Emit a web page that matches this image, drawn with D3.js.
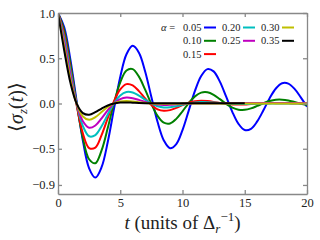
<!DOCTYPE html>
<html lang="en">
<head>
<meta charset="UTF-8">
<script src="https://cdn.jsdelivr.net/npm/d3@7"></script>
<title>sigma_z(t) for several alpha</title>
<style>
  body { margin: 0; background: #fff; }
  svg text { fill: #222; }
  .axis path, .axis line { stroke: #888; stroke-width: 1.3px; }
  .curve { fill: none; stroke-width: 2px; }
</style>
</head>
<body>
<svg id="chart" width="320" height="240"></svg>
<script>
// Data
const alphaLabels = ["0.05", "0.10", "0.15", "0.20", "0.25", "0.30", "0.35"];
const times = d3.range(0, 20.001, 0.5);      // t = 0 .. 20
const timesShort = d3.range(0, 15.001, 0.5); // alpha = 0.35 stops at t = 15

const sigmaA005 = [1.000, 0.841, 0.482, 0.024, -0.412, -0.716, -0.819, -0.704, -0.423, -0.057,
  0.294, 0.544, 0.637, 0.562, 0.354, 0.072, -0.205, -0.408, -0.494, -0.448,
  -0.294, -0.079, 0.139, 0.304, 0.380, 0.355, 0.242, 0.079, -0.092, -0.226,
  -0.293, -0.280, -0.198, -0.075, 0.059, 0.166, 0.224, 0.220, 0.161, 0.068, -0.035];
const sigmaA010 = [1.000, 0.807, 0.434, -0.003, -0.383, -0.616, -0.660, -0.518, -0.269, 0.007,
  0.234, 0.364, 0.380, 0.297, 0.153, -0.006, -0.137, -0.212, -0.220, -0.170,
  -0.086, 0.005, 0.079, 0.120, 0.124, 0.096, 0.048, -0.004, -0.045, -0.068,
  -0.070, -0.054, -0.027, 0.003, 0.027, 0.041, 0.042, 0.033, 0.016, -0.002, -0.016];
const sigmaA015 = [1.000, 0.766, 0.383, -0.019, -0.331, -0.492, -0.487, -0.349, -0.160, 0.025,
  0.156, 0.214, 0.200, 0.137, 0.056, -0.016, -0.064, -0.081, -0.073, -0.049,
  -0.018, 0.009, 0.026, 0.031, 0.027, 0.018, 0.006, -0.004, -0.010, -0.012,
  -0.011, -0.006, -0.002, 0.002, 0.004, 0.004, 0.003, 0.002, 0.000, -0.001, -0.002];
const sigmaA020 = [1.000, 0.726, 0.351, -0.002, -0.250, -0.362, -0.349, -0.252, -0.121, 0.003,
  0.089, 0.127, 0.122, 0.087, 0.042, -0.002, -0.031, -0.045, -0.042, -0.031,
  -0.014, 0.001, 0.011, 0.016, 0.015, 0.010, 0.005, 0.000, -0.004, -0.006,
  -0.006, -0.004, -0.002, 0.000, 0.001, 0.001, 0.001, 0.000, 0.000, 0.000, 0.000];
const sigmaA025 = [1.000, 0.683, 0.311, -0.002, -0.197, -0.268, -0.243, -0.165, -0.074, 0.002,
  0.049, 0.066, 0.059, 0.040, 0.018, -0.001, -0.012, -0.016, -0.014, -0.009,
  -0.004, 0.000, 0.003, 0.004, 0.004, 0.004, 0.004, 0.005, 0.005, 0.005,
  0.005, 0.005, 0.005, 0.005, 0.005, 0.005, 0.005, 0.005, 0.005, 0.005, 0.005];
const sigmaA030 = [1.000, 0.631, 0.265, -0.002, -0.143, -0.180, -0.151, -0.095, -0.039, 0.001,
  0.022, 0.027, 0.023, 0.015, 0.006, 0.000, -0.003, -0.004, -0.003, -0.002,
  -0.001, 0.000, 0.000, 0.000, 0.000, 0.000, 0.000, 0.000, 0.000, 0.000,
  0.000, 0.000, 0.000, 0.000, 0.000, 0.000, 0.000, 0.000, 0.000, 0.000, 0.000];
const sigmaA035 = [1.000, 0.586, 0.228, -0.001, -0.106, -0.124, -0.096, -0.056, -0.022, 0.000,
  0.010, 0.012, 0.009, 0.006, 0.004, 0.003, 0.003, 0.002, 0.002, 0.002,
  0.002, 0.002, 0.002, 0.002, 0.002, 0.002, 0.002, 0.002, 0.002, 0.002, 0.002];

const xTicks = [0, 5, 10, 15, 20];
const yTicks = [1.0, 0.5, 0.0, -0.5, -0.9];

const seriesValues = [sigmaA005, sigmaA010, sigmaA015, sigmaA020, sigmaA025, sigmaA030, sigmaA035];
const seriesTimes = [times, times, times, times, times, times, timesShort];
const lineColors = ["#0000ff", "#008000", "#ff0000", "#00bfbf", "#bf00bf", "#bfbf00", "#000000"];

// Layout
const plot = { left: 58, right: 307, top: 13, bottom: 194 };
const serif = "Liberation Serif, serif";
const svg = d3.select("#chart").attr("font-family", serif);

const x = d3.scaleLinear().domain([0, 20]).range([plot.left, plot.right]);
const y = d3.scaleLinear().domain([-1, 1]).range([plot.bottom, plot.top]);

svg.append("defs").append("clipPath").attr("id", "clip")
  .append("rect")
  .attr("x", plot.left).attr("y", plot.top)
  .attr("width", plot.right - plot.left).attr("height", plot.bottom - plot.top);

// Curves
const line = d3.line()
  .x(d => x(d[0]))
  .y(d => y(d[1]))
  .curve(d3.curveCatmullRom);

svg.append("g").attr("clip-path", "url(#clip)")
  .selectAll("path")
  .data(seriesValues.map((vals, i) => ({ pts: vals.map((v, j) => [seriesTimes[i][j], v]), color: lineColors[i] })))
  .enter()
  .append("path")
  .attr("class", "curve")
  .attr("stroke", d => d.color)
  .attr("d", d => line(d.pts));

// Axes, ticks pointing inwards on all four sides
const yFormat = d3.format(".1f");

svg.append("g").attr("class", "axis")
  .attr("transform", `translate(0,${plot.bottom})`)
  .call(d3.axisBottom(x).tickValues(xTicks).tickSize(-4).tickSizeOuter(0).tickPadding(4).tickFormat(d3.format("d")))
  .call(g => g.attr("font-family", serif).selectAll("text").attr("font-size", 12.5));

svg.append("g").attr("class", "axis")
  .attr("transform", `translate(0,${plot.top})`)
  .call(d3.axisTop(x).tickValues(xTicks).tickSize(-4).tickSizeOuter(0).tickFormat(""));

svg.append("g").attr("class", "axis")
  .attr("transform", `translate(${plot.left},0)`)
  .call(d3.axisLeft(y).tickValues(yTicks).tickSize(-4).tickSizeOuter(0).tickPadding(3).tickFormat(yFormat))
  .call(g => g.attr("font-family", serif).selectAll("text").attr("font-size", 12.5));

svg.append("g").attr("class", "axis")
  .attr("transform", `translate(${plot.right},0)`)
  .call(d3.axisRight(y).tickValues(yTicks).tickSize(-4).tickSizeOuter(0).tickFormat(""));

// Axis labels
const xLabel = svg.append("text")
  .attr("x", (plot.left + plot.right) / 2)
  .attr("y", 229)
  .attr("text-anchor", "middle")
  .attr("font-size", 19);
xLabel.append("tspan").attr("font-style", "italic").text("t");
xLabel.append("tspan").text(" (units of \u0394");
xLabel.append("tspan").attr("font-style", "italic").attr("font-size", 13).attr("dy", 4).text("r");
xLabel.append("tspan").attr("font-size", 13).attr("dy", -12).text("\u22121");
xLabel.append("tspan").attr("dy", 8).text(")");

const yLabel = svg.append("text")
  .attr("transform", "translate(23,107) rotate(-90)")
  .attr("text-anchor", "middle")
  .attr("font-size", 20);
yLabel.append("tspan").text("\u27e8");
yLabel.append("tspan").attr("font-style", "italic").text("\u03c3");
yLabel.append("tspan").attr("font-style", "italic").attr("font-size", 13).attr("dy", 4).text("z");
yLabel.append("tspan").attr("dy", -4).text("(");
yLabel.append("tspan").attr("font-style", "italic").text("t");
yLabel.append("tspan").text(")\u27e9");

// Legend: 3 rows, columns holding 3, 2 and 2 entries, label before the line
const legendCol = [0, 0, 0, 1, 1, 2, 2];
const legendRow = [0, 1, 2, 0, 1, 0, 1];
const legend = svg.append("g").attr("font-size", 10.5);
const legendAlpha = legend.append("text").attr("x", 161).attr("y", 31);
legendAlpha.append("tspan").attr("font-style", "italic").text("\u03b1");
legendAlpha.append("tspan").text(" =");

const entry = legend.selectAll("g.entry")
  .data(alphaLabels)
  .enter()
  .append("g")
  .attr("class", "entry")
  .attr("transform", (d, i) => `translate(${183 + legendCol[i] * 39},${31 + legendRow[i] * 13.3})`);

entry.append("text").text(d => d);
entry.append("line")
  .attr("x1", 21).attr("x2", 33)
  .attr("y1", -3.5).attr("y2", -3.5)
  .attr("stroke", (d, i) => lineColors[i])
  .attr("stroke-width", 2);
</script>
</body>
</html>
